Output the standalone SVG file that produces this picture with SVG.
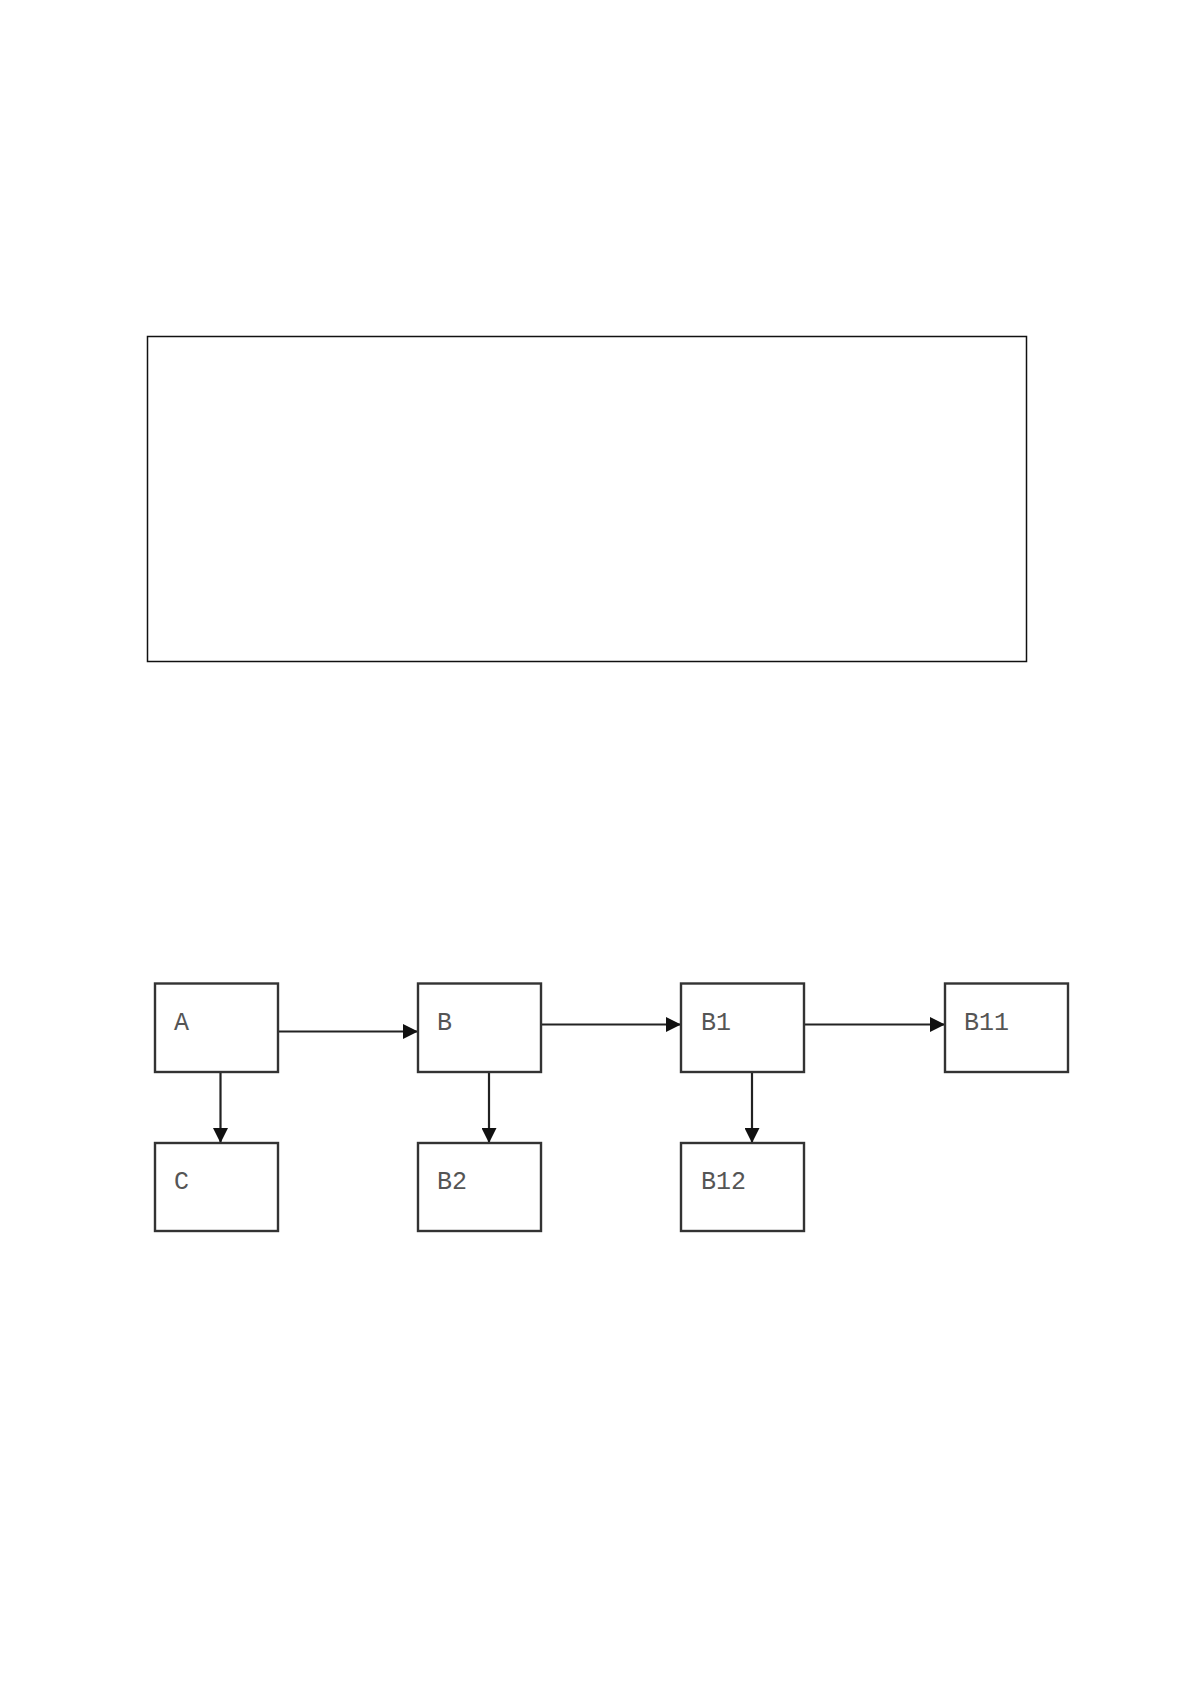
<svg xmlns="http://www.w3.org/2000/svg" width="1192" height="1685" viewBox="0 0 1192 1685">
<style>
.box{fill:#fff;stroke:#333;stroke-width:2.4}
.frame{fill:none;stroke:#111;stroke-width:1.5}
.lbl{font-family:"Liberation Mono","Courier New",monospace;font-size:25px;fill:#555}
.edge{stroke:#222;stroke-width:2.2;fill:none}
</style>
<defs>
<marker id="arr" viewBox="0 0 10 10" refX="10" refY="5" markerWidth="15" markerHeight="15" markerUnits="userSpaceOnUse" orient="auto">
<path d="M0,0 L10,5 L0,10 Z" fill="#111"/>
</marker>
</defs>
<rect width="1192" height="1685" fill="#fff"/>
<g id="frame"><rect class="frame" x="147.5" y="336.5" width="879" height="325"/></g>
<g id="connectors">
<line class="edge" x1="278" y1="1031.5" x2="418" y2="1031.5" marker-end="url(#arr)"/>
<line class="edge" x1="541" y1="1024.5" x2="681" y2="1024.5" marker-end="url(#arr)"/>
<line class="edge" x1="804" y1="1024.5" x2="945" y2="1024.5" marker-end="url(#arr)"/>
<line class="edge" x1="220.5" y1="1072" x2="220.5" y2="1143" marker-end="url(#arr)"/>
<line class="edge" x1="489" y1="1072" x2="489" y2="1143" marker-end="url(#arr)"/>
<line class="edge" x1="752" y1="1072" x2="752" y2="1143" marker-end="url(#arr)"/>
</g>
<g id="node-A"><rect class="box" x="155" y="983.5" width="123" height="88.5"/><text class="lbl" x="174" y="1030">A</text></g>
<g id="node-B"><rect class="box" x="418" y="983.5" width="123" height="88.5"/><text class="lbl" x="437" y="1030">B</text></g>
<g id="node-B1"><rect class="box" x="681" y="983.5" width="123" height="88.5"/><text class="lbl" x="701" y="1030">B1</text></g>
<g id="node-B11"><rect class="box" x="945" y="983.5" width="123" height="88.5"/><text class="lbl" x="964" y="1030">B11</text></g>
<g id="node-C"><rect class="box" x="155" y="1143" width="123" height="88"/><text class="lbl" x="174" y="1189">C</text></g>
<g id="node-B2"><rect class="box" x="418" y="1143" width="123" height="88"/><text class="lbl" x="437" y="1189">B2</text></g>
<g id="node-B12"><rect class="box" x="681" y="1143" width="123" height="88"/><text class="lbl" x="701" y="1189">B12</text></g>
</svg>
